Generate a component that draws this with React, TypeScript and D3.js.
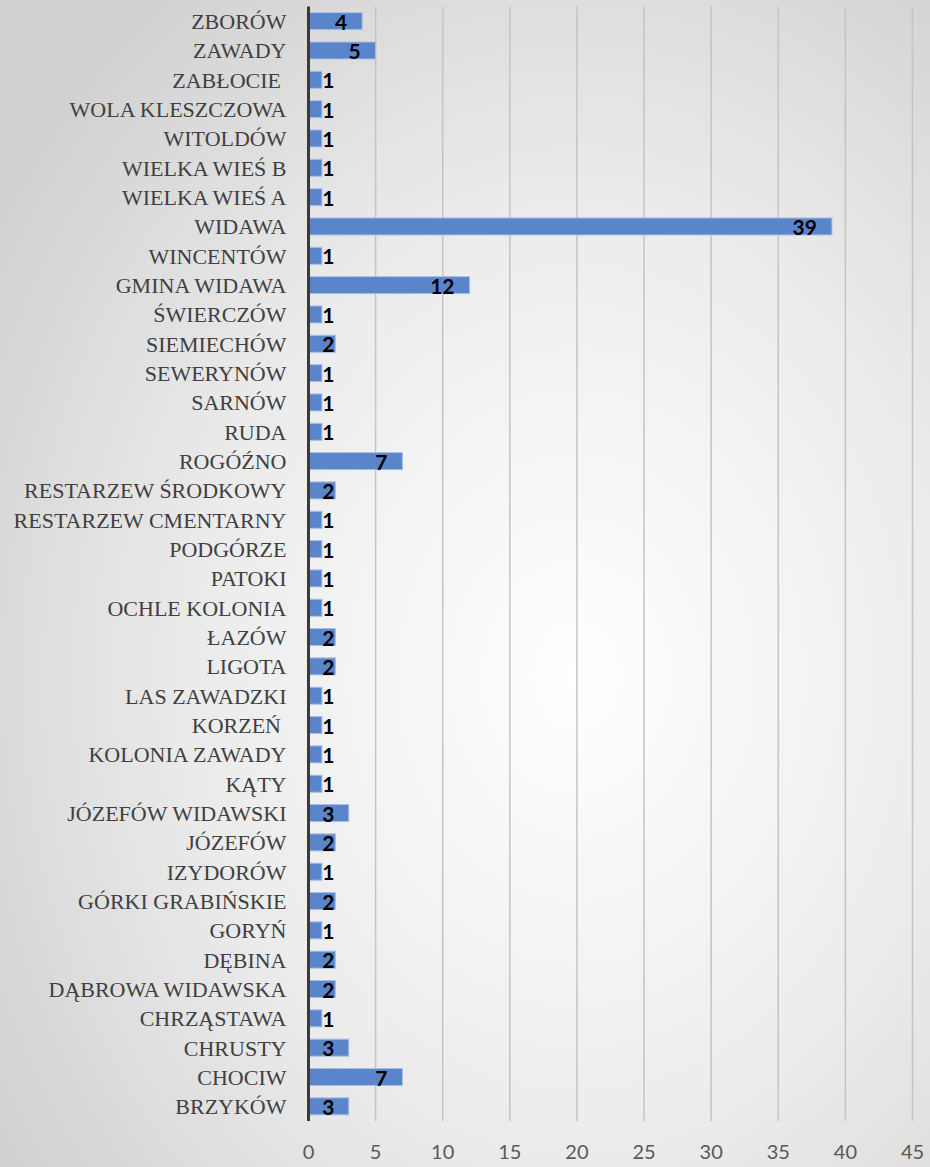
import React from "react";
import * as d3 from "d3";

const categories: string[] = [
  "ZBORÓW", "ZAWADY", "ZABŁOCIE ", "WOLA KLESZCZOWA", "WITOLDÓW", "WIELKA WIEŚ B",
  "WIELKA WIEŚ A", "WIDAWA", "WINCENTÓW", "GMINA WIDAWA", "ŚWIERCZÓW", "SIEMIECHÓW",
  "SEWERYNÓW", "SARNÓW", "RUDA", "ROGÓŹNO", "RESTARZEW ŚRODKOWY", "RESTARZEW CMENTARNY",
  "PODGÓRZE", "PATOKI", "OCHLE KOLONIA", "ŁAZÓW", "LIGOTA", "LAS ZAWADZKI", "KORZEŃ ",
  "KOLONIA ZAWADY", "KĄTY", "JÓZEFÓW WIDAWSKI", "JÓZEFÓW", "IZYDORÓW", "GÓRKI GRABIŃSKIE",
  "GORYŃ", "DĘBINA", "DĄBROWA WIDAWSKA", "CHRZĄSTAWA", "CHRUSTY", "CHOCIW", "BRZYKÓW",
];

const values: number[] = [
  4, 5, 1, 1, 1, 1,
  1, 39, 1, 12, 1, 2,
  1, 1, 1, 7, 2, 1,
  1, 1, 1, 2, 2, 1, 1,
  1, 1, 3, 2, 1, 2,
  1, 2, 2, 1, 3, 7, 3,
];

const xTicks: number[] = [0, 5, 10, 15, 20, 25, 30, 35, 40, 45];

const W = 930;
const H = 1167;

export default function App() {
  const x0 = 308.5;
  const x = d3.scaleLinear().domain([0, 45]).range([x0, 912.5]);
  const top = 6.5;
  const bottom = 1121;
  const y = d3
    .scaleBand<string>()
    .domain(categories)
    .range([top, bottom])
    .paddingInner(0.42)
    .paddingOuter(0.21);

  return (
    <div style={{ position: "absolute", left: 0, top: 0 }}>
      <svg width={W} height={H} style={{ display: "block" }}>
        <defs>
          <radialGradient id="bg" cx="62%" cy="58%" r="75%">
            <stop offset="0%" stopColor="#ffffff" />
            <stop offset="55%" stopColor="#ebebeb" />
            <stop offset="100%" stopColor="#d0d0d0" />
          </radialGradient>
        </defs>
        <rect x={0} y={0} width={W} height={H} fill="url(#bg)" />

        {xTicks.filter((t) => t > 0).map((t) => (
          <line
            key={"g" + t}
            x1={x(t)}
            x2={x(t)}
            y1={top}
            y2={bottom}
            stroke="#c4c4c4"
            strokeWidth={1.5}
          />
        ))}

        {categories.map((c, i) => {
          const yy = y(c)!;
          const bw = y.bandwidth();
          const xe = x(values[i]);
          const labelX = Math.max(xe - 15, x0 + 26);
          return (
            <g key={"b" + i}>
              <rect
                x={x0}
                y={yy}
                width={xe - x0}
                height={bw}
                fill="#5b85ca"
                stroke="#a8c0e8"
                strokeWidth={1}
              />
              <text
                x={labelX}
                y={yy + bw / 2 + 1}
                dy="0.36em"
                textAnchor="end"
                fontFamily="Lato, 'Open Sans', sans-serif"
                fontWeight={700}
                fontSize={21}
                fill="#000000"
              >
                {values[i]}
              </text>
              <text
                x={x0 - 22}
                y={yy + bw / 2}
                dy="0.36em"
                textAnchor="end"
                fontFamily="'Liberation Serif', serif"
                fontSize={22}
                fill="#404040"
                style={{ whiteSpace: "pre" }}
              >
                {c}
              </text>
            </g>
          );
        })}

        <line x1={x0} x2={x0} y1={top} y2={bottom} stroke="#3a3a3a" strokeWidth={3} />

        {xTicks.map((t) => (
          <text
            key={"t" + t}
            x={x(t)}
            y={1152}
            dy="0.36em"
            textAnchor="middle"
            fontFamily="Lato, 'Open Sans', sans-serif"
            fontSize={20}
            fill="#595959"
          >
            {t}
          </text>
        ))}
      </svg>
    </div>
  );
}
